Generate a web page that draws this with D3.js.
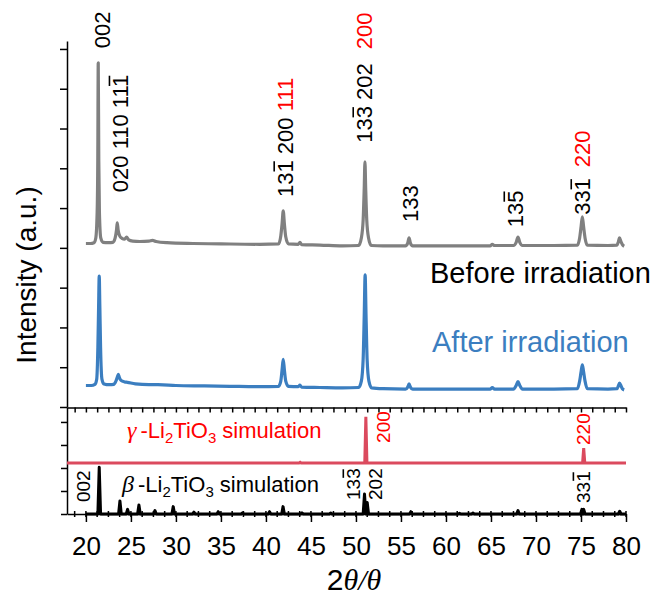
<!DOCTYPE html>
<html><head><meta charset="utf-8">
<script src="https://cdn.jsdelivr.net/npm/d3@7"></script>
<style>html,body{margin:0;padding:0;background:#fff}</style>
</head><body>
<svg id="chart" width="654" height="595"></svg>
<script>
// ---------------- data ----------------
const xTickValues = [20,25,30,35,40,45,50,55,60,65,70,75,80];
const yTopTicks = [0,1,2,3,4,5,6,7,8,9];
const yBotTicks = [0,1,2,3,4];

// measured pattern before irradiation: [2theta, intensity (a.u., offset)]
const beforeScan = [[20.0,4.11],[20.5,4.11],[20.9,4.13],[21.1,4.25],[21.25,4.9],[21.32,6.2],[21.37,8.65],[21.43,6.2],[21.5,4.9],[21.65,4.25],[21.9,4.14],[22.5,4.13],[23.0,4.14],[23.25,4.25],[23.4,4.45],[23.48,4.63],[23.58,4.45],[23.75,4.3],[24.0,4.24],[24.3,4.22],[24.52,4.27],[24.75,4.2],[25.2,4.17],[26.0,4.16],[27.0,4.17],[27.4,4.19],[27.8,4.16],[29.0,4.13],[31.9,4.11],[35.0,4.1],[39.3,4.09],[41.4,4.1],[41.65,4.3],[41.8,4.62],[41.92,4.93],[42.05,4.6],[42.2,4.28],[42.5,4.1],[43.6,4.09],[43.78,4.14],[43.95,4.08],[46.0,4.07],[48.5,4.05],[50.3,4.06],[50.6,4.25],[50.8,4.7],[50.92,5.5],[51.0,6.16],[51.08,5.5],[51.2,4.7],[51.4,4.25],[51.7,4.06],[53.0,4.05],[55.5,4.05],[55.75,4.12],[55.9,4.25],[56.05,4.12],[56.3,4.05],[60.0,4.05],[64.9,4.05],[65.15,4.09],[65.4,4.06],[67.5,4.06],[67.8,4.14],[68.0,4.27],[68.2,4.14],[68.5,4.06],[72.0,4.06],[74.6,4.07],[74.85,4.25],[75.02,4.55],[75.15,4.78],[75.28,4.55],[75.45,4.25],[75.7,4.07],[78.0,4.06],[79.0,4.07],[79.15,4.15],[79.28,4.25],[79.45,4.15],[79.6,4.08],[79.8,4.04]];

// measured pattern after irradiation
const afterScan = [[20.0,0.54],[20.6,0.54],[21.0,0.57],[21.2,0.7],[21.33,1.5],[21.41,2.5],[21.48,3.29],[21.55,2.5],[21.63,1.5],[21.78,0.7],[22.0,0.58],[22.6,0.56],[23.1,0.57],[23.35,0.66],[23.5,0.76],[23.6,0.82],[23.72,0.74],[23.9,0.67],[24.3,0.63],[24.6,0.62],[25.5,0.58],[27.0,0.56],[28.0,0.56],[30.0,0.54],[33.0,0.53],[36.0,0.52],[39.3,0.51],[41.4,0.52],[41.65,0.65],[41.8,0.95],[41.92,1.2],[42.05,0.93],[42.2,0.65],[42.5,0.52],[43.6,0.51],[43.78,0.55],[43.95,0.5],[46.0,0.49],[48.5,0.48],[50.3,0.49],[50.6,0.65],[50.8,1.2],[50.92,2.3],[51.02,3.32],[51.12,2.3],[51.24,1.2],[51.44,0.65],[51.75,0.48],[53.0,0.46],[55.5,0.45],[55.75,0.5],[55.9,0.58],[56.05,0.5],[56.3,0.45],[60.0,0.45],[64.9,0.45],[65.15,0.49],[65.4,0.45],[67.5,0.45],[67.8,0.54],[68.0,0.64],[68.2,0.54],[68.5,0.45],[72.0,0.45],[74.6,0.46],[74.85,0.65],[75.02,0.9],[75.15,1.06],[75.28,0.9],[75.45,0.65],[75.7,0.46],[78.0,0.45],[79.0,0.46],[79.15,0.53],[79.28,0.6],[79.45,0.53],[79.6,0.46],[79.8,0.43]];

// simulated beta-Li2TiO3 reflections
const betaTheta  = [21.48,23.78,24.63,25.89,27.67,29.7,32.0,34.7,37.4,40.4,41.9,44.0,47.2,50.95,51.25,56.1,61.5,63.0,68.0,75.1,75.3,79.3];
const betaHeight = [2.03,0.57,0.2,0.39,0.15,0.32,0.08,0.1,0.05,0.1,0.32,0.05,0.04,0.87,0.5,0.1,0.03,0.04,0.15,0.2,0.2,0.12];

// simulated gamma-Li2TiO3 reflections
const gammaTheta  = [43.8,51.1,75.3];
const gammaHeight = [0.03,2.01,0.64];
const gammaOffset = 2.22;

// --------------- layout ---------------
const FONT = "'Liberation Sans', Arial, sans-serif";
const SERIF = "'Liberation Serif', 'Times New Roman', serif";
const GRAY = "#808080", BLUE = "#3b7ec0", REDLINE = "#db4a5e", RED = "#ff0000";

const svg = d3.select("#chart");
const x = d3.scaleLinear().domain([17.9, 80]).range([67, 626]);
const yTop = d3.scaleLinear().domain([0, 9.2]).range([407, 41]);
const yBot = d3.scaleLinear().domain([0, 4.65]).range([514, 407]);

function stickPoints(thetas, heights, base, hw) {
  const pts = [[20, base]];
  thetas.forEach((t,i) => { pts.push([t-hw, base],[t, base+heights[i]],[t+hw, base]); });
  pts.push([80, base]);
  return pts;
}

const curveLine = ys => d3.line().x(d => x(d[0])).y(d => ys(d[1])).curve(d3.curveMonotoneX);
const linLine = ys => d3.line().x(d => x(d[0])).y(d => ys(d[1]));

// axes
const axStyle = g => { g.selectAll("path,line").attr("stroke","#000").attr("stroke-width",1.5); };
svg.append("g").attr("transform","translate(67,0)")
  .call(d3.axisLeft(yTop).tickValues(yTopTicks).tickSize(7).tickSizeOuter(0).tickFormat(""))
  .call(axStyle);
svg.append("g").attr("transform","translate(67,0)")
  .call(d3.axisLeft(yBot).tickValues(yBotTicks).tickSize(6).tickSizeOuter(0).tickFormat(""))
  .call(axStyle);
const minorVals = d3.range(18.75, 80.001, 1.25);
svg.append("g").attr("transform","translate(0,407.5)")
  .call(d3.axisBottom(x).tickValues(minorVals).tickSize(5).tickSizeOuter(0).tickFormat(""))
  .call(axStyle);
const xb = svg.append("g").attr("transform","translate(0,514)")
  .call(d3.axisBottom(x).tickValues(xTickValues).tickSize(8).tickSizeOuter(0).tickFormat(d => d))
  .call(axStyle);
xb.selectAll("text").attr("font-family",FONT).attr("font-size",26).attr("fill","#000")
  .attr("y",41).attr("dy",null);
xb.selectAll(".minor").data(minorVals).enter().append("line")
  .attr("x1",d=>x(d)).attr("x2",d=>x(d)).attr("y1",-3).attr("y2",3)
  .attr("stroke","#000").attr("stroke-width",1.5);

// patterns
svg.append("path").datum(beforeScan).attr("d",curveLine(yTop))
  .attr("fill","none").attr("stroke",GRAY).attr("stroke-width",3.2).attr("stroke-linejoin","round");
svg.append("path").datum(afterScan).attr("d",curveLine(yTop))
  .attr("fill","none").attr("stroke",BLUE).attr("stroke-width",3.2).attr("stroke-linejoin","round");
svg.append("path").datum([[17.9,0],...stickPoints(gammaTheta,gammaHeight,0,0.12),[80,0]].map(d=>[d[0],d[1]+gammaOffset]))
  .attr("d",linLine(yBot)).attr("fill","none").attr("stroke",REDLINE).attr("stroke-width",3);
svg.append("path").datum(stickPoints(betaTheta,betaHeight,0,0.15))
  .attr("d",linLine(yBot)).attr("fill","none").attr("stroke","#000").attr("stroke-width",3).attr("stroke-linejoin","round");

// rotated Miller-index labels
function rotLabel(px, py, str, size, gap) {
  const grp = svg.append("g").attr("transform",`translate(${px},${py}) rotate(-90)`);
  const text = grp.append("text").attr("font-family",FONT).attr("font-size",size).style("white-space","pre");
  const parts = str.split("|");
  let plain = ""; const bars = [];
  parts.forEach((part,k) => {
    if (!part.length) return;
    let s = "";
    for (let i=0;i<part.length;i++){ if(part[i]==="!"){ bars.push({i:plain.length+s.length, c: k?RED:"#000"}); continue;} s+=part[i]; }
    const ts = text.append("tspan").attr("fill", k?RED:"#000").text(s);
    if (k && gap && plain.length) ts.attr("dx", gap);
    plain += s;
  });
  const n = text.node();
  bars.forEach(b => {
    const a = n.getStartPositionOfChar(b.i), e = n.getEndPositionOfChar(b.i);
    const yy = -(0.716*size + 3);
    grp.append("line").attr("x1",a.x+1).attr("x2",e.x-1).attr("y1",yy).attr("y2",yy)
      .attr("stroke",b.c).attr("stroke-width",1.6);
  });
}
const topLabels = [
  {s:"002", t:22.67, u:9.02},
  {s:"020 110 11!1", t:24.7, u:5.40},
  {s:"13!1 200 |111", t:43.0, u:5.28},
  {s:"13!3 202|200", t:51.78, u:6.64, gap:14},
  {s:"133", t:56.89, u:4.65},
  {s:"13!5", t:68.56, u:4.52},
  {s:"33!1|220", t:76.0, u:4.83, gap:11}
];
topLabels.forEach(l => rotLabel(x(l.t), yTop(l.u), l.s, 22, l.gap));
const botLabels = [
  {s:"002", t:20.44, b:0.52},
  {s:"13!3", t:50.44, b:0.61},
  {s:"202", t:52.89, b:0.61},
  {s:"33!1", t:76.0, b:0.48},
  {s:"|200", t:53.78, b:3.09},
  {s:"|220", t:76.0, b:3.0}
];
botLabels.forEach(l => rotLabel(x(l.t), yBot(l.b), l.s, 19, 0));

// series labels
svg.append("text").attr("x",430).attr("y",283).attr("font-family",FONT).attr("font-size",29)
  .attr("fill","#000").text("Before irradiation");
svg.append("text").attr("x",432).attr("y",352).attr("font-family",FONT).attr("font-size",29)
  .attr("fill",BLUE).text("After irradiation");

function phaseLabel(px, py, greek, color) {
  const t = svg.append("text").attr("x",px).attr("y",py).attr("font-family",FONT).attr("font-size",22)
    .attr("fill",color).style("white-space","pre");
  t.append("tspan").attr("font-family",SERIF).attr("font-style","italic").attr("font-size",24).text(greek);
  t.append("tspan").attr("dx",4).text("-Li");
  t.append("tspan").attr("font-size",15).attr("dy",5).text("2");
  t.append("tspan").attr("dy",-5).text("TiO");
  t.append("tspan").attr("font-size",15).attr("dy",5).text("3");
  t.append("tspan").attr("dy",-5).text(" simulation");
}
phaseLabel(127, 438, "\u03b3", RED);
phaseLabel(122, 492, "\u03b2", "#000");

// axis titles
svg.append("text").attr("transform","translate(36,275) rotate(-90)").attr("text-anchor","middle")
  .attr("font-family",FONT).attr("font-size",28).attr("fill","#000").text("Intensity (a.u.)");
const xt = svg.append("text").attr("x",354).attr("y",590).attr("text-anchor","middle")
  .attr("font-family",FONT).attr("font-size",30).attr("fill","#000");
xt.append("tspan").text("2");
xt.append("tspan").attr("font-family",SERIF).attr("font-style","italic").text("\u03b8/\u03b8");
</script>
</body></html>
